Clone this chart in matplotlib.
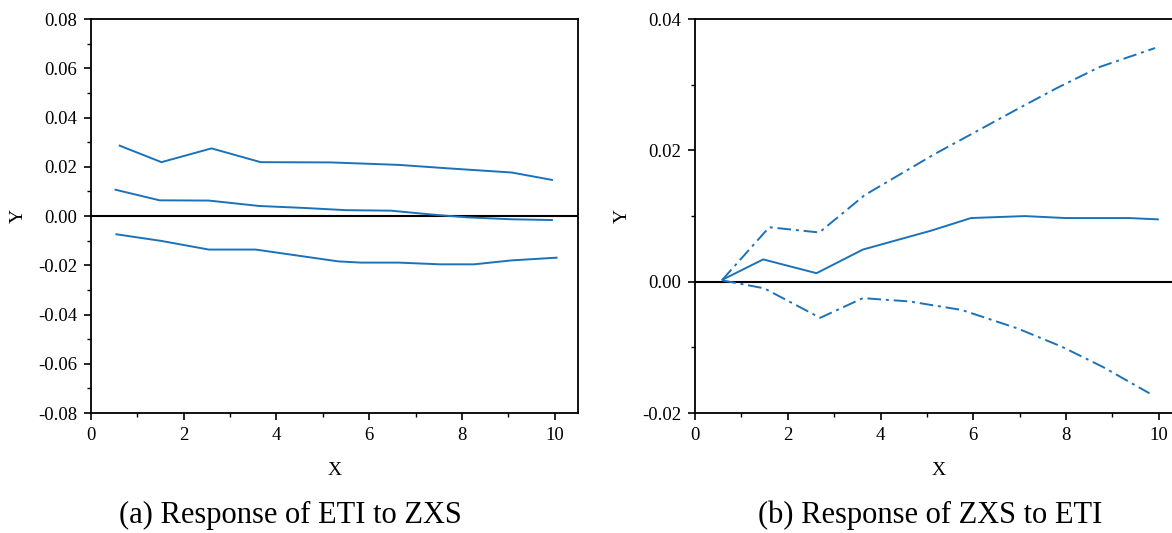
import matplotlib
matplotlib.use('Agg')
import matplotlib.pyplot as plt
from matplotlib.ticker import MultipleLocator

plt.rcParams['font.family'] = ['Liberation Serif', 'DejaVu Serif']

# (a) Response of ETI to ZXS
a_x_upper = [0.62, 1.52, 2.6, 3.66, 5.17, 6.63, 7.77, 9.07, 9.94]
a_upper = [0.0286, 0.0219, 0.0275, 0.0219, 0.0218, 0.0208, 0.0193, 0.0177, 0.0147]
a_x_mid = [0.53, 1.48, 2.54, 3.63, 4.6, 5.5, 6.47, 7.36, 8.1, 9.07, 9.94]
a_mid = [0.0107, 0.0064, 0.0063, 0.0041, 0.0033, 0.0024, 0.0022, 0.0006, -0.0005, -0.0013, -0.0016]
a_x_lower = [0.55, 1.52, 2.54, 3.55, 5.33, 5.82, 6.63, 7.53, 8.26, 9.07, 10.04]
a_lower = [-0.0074, -0.0101, -0.0136, -0.0136, -0.0184, -0.0189, -0.0189, -0.0196, -0.0196, -0.018, -0.0169]

# (b) Response of ZXS to ETI
b_x_mid = [0.59, 1.47, 2.62, 3.62, 5.1, 5.95, 7.11, 7.99, 9.36, 9.98]
b_mid = [0.0003, 0.0034, 0.0013, 0.0049, 0.0078, 0.0097, 0.0100, 0.0097, 0.0097, 0.0095]
b_x_upper = [0.59, 1.6, 2.68, 3.66, 5.18, 5.99, 7.03, 7.83, 8.72, 9.92]
b_upper = [0.0003, 0.0083, 0.0075, 0.0132, 0.0195, 0.0226, 0.0266, 0.0296, 0.0327, 0.0356]
b_x_lower = [0.59, 1.49, 2.7, 3.62, 4.62, 5.75, 6.95, 7.91, 8.8, 9.8]
b_lower = [0.0002, -0.0010, -0.0055, -0.0025, -0.0030, -0.0043, -0.0071, -0.0099, -0.0130, -0.0170]

color = '#1b72b8'
dashdot = (0, (7, 2.5, 1.5, 2.5))

fig = plt.figure(figsize=(11.72, 5.33), dpi=100)
ax1 = fig.add_axes([0.0776, 0.2251, 0.4155, 0.739])
ax2 = fig.add_axes([0.593, 0.2251, 0.4155, 0.739])


def style(ax, ylim, major, minor):
    ax.set_xlim(0, 10.5)
    ax.set_ylim(*ylim)
    ax.xaxis.set_major_locator(MultipleLocator(2))
    ax.xaxis.set_minor_locator(MultipleLocator(1))
    ax.yaxis.set_major_locator(MultipleLocator(major))
    ax.yaxis.set_minor_locator(MultipleLocator(minor))
    ax.tick_params(which='major', direction='out', length=5, width=1.2, labelsize=13.5, pad=5)
    ax.tick_params(which='minor', direction='out', length=3, width=1.0)
    for s in ax.spines.values():
        s.set_linewidth(1.3)
    ax.axhline(0, color='black', lw=1.5, zorder=1)
    ax.set_xlabel('X', fontsize=14, labelpad=13)
    ax.set_ylabel('Y', fontsize=14, labelpad=8)


ax1.plot(a_x_upper, a_upper, color=color, lw=1.4)
ax1.plot(a_x_mid, a_mid, color=color, lw=1.4)
ax1.plot(a_x_lower, a_lower, color=color, lw=1.4)
style(ax1, (-0.08, 0.08), 0.02, 0.01)
ax1.yaxis.set_major_formatter(plt.FormatStrFormatter('%.2f'))

ax2.plot(b_x_mid, b_mid, color=color, lw=1.4)
ax2.plot(b_x_upper, b_upper, color=color, lw=1.4, linestyle=dashdot)
ax2.plot(b_x_lower, b_lower, color=color, lw=1.4, linestyle=dashdot)
style(ax2, (-0.02, 0.04), 0.02, 0.01)
ax2.yaxis.set_major_formatter(plt.FormatStrFormatter('%.2f'))

fig.text(290 / 1172, 1 - 515 / 533, '(a) Response of ETI to ZXS', fontsize=22, ha='center', va='center')
fig.text(930 / 1172, 1 - 515 / 533, '(b) Response of ZXS to ETI', fontsize=22, ha='center', va='center')

fig.savefig('out.png', dpi=100)
